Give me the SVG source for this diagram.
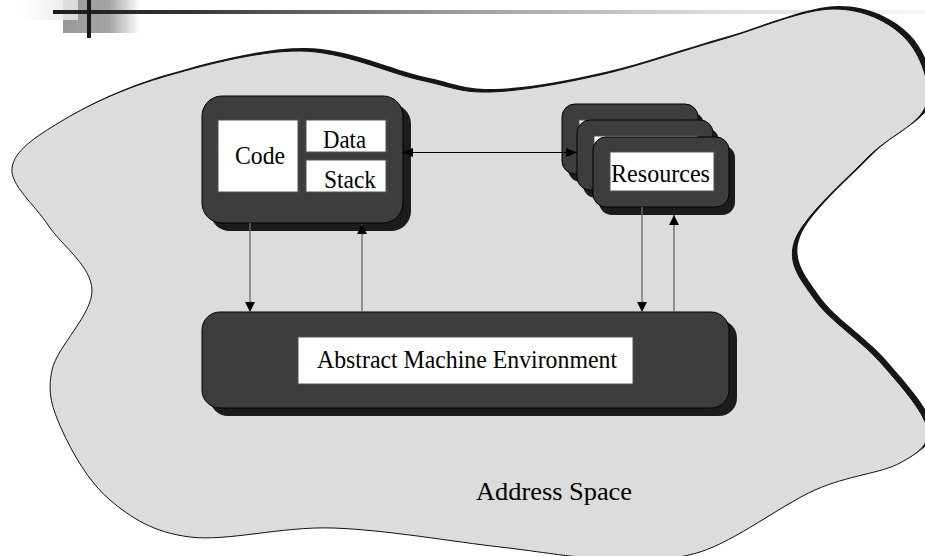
<svg xmlns="http://www.w3.org/2000/svg" width="925" height="556" viewBox="0 0 925 556">
  <style>
    .panel { fill: #3d3d3d; stroke: #000; stroke-width: 1; }
    .shadow { fill: #1c1c1c; }
    .label { fill: #fff; stroke: #555; stroke-width: 1; }
    .txt { font-family: "Liberation Serif", "Times New Roman", serif; font-size: 26px; fill: #000; }
    .link { stroke: #6e6e6e; stroke-width: 1.4; fill: none; }
    .link2 { stroke: #000; stroke-width: 1; fill: none; }
  </style>
  <defs>
    <linearGradient id="rule" x1="53" y1="0" x2="925" y2="0" gradientUnits="userSpaceOnUse">
      <stop offset="0" stop-color="#1a1a1a"/>
      <stop offset="0.15" stop-color="#333"/>
      <stop offset="0.45" stop-color="#999"/>
      <stop offset="0.75" stop-color="#dadada"/>
      <stop offset="1" stop-color="#f6f6f6"/>
    </linearGradient>
    <linearGradient id="sqDark" x1="0" y1="0" x2="1" y2="0">
      <stop offset="0" stop-color="#999"/>
      <stop offset="0.6" stop-color="#a4a4a4"/>
      <stop offset="1" stop-color="#fff"/>
    </linearGradient>
    <linearGradient id="sqLight" x1="0" y1="0" x2="1" y2="0">
      <stop offset="0" stop-color="#fff"/>
      <stop offset="1" stop-color="#e4e4e4"/>
    </linearGradient>
    <path id="blob" d="M12,168 C14,150.8 35.3,137 60,122 C84.7,107 120,89.8 160,78 C200,66.2 256.7,50.7 300,51 C343.3,51.3 388.3,73.2 420,80 C451.7,86.8 460,92.8 490,92 C520,91.2 561.7,83.7 600,75 C638.3,66.3 681.2,51 720,40 C758.8,29 802.2,9.3 833,9 C863.8,8.7 889.5,22 905,38 C920.5,54 932.3,85 926,105 C919.7,125 888.8,135.5 867,158 C845.2,180.5 803.7,216.3 795,240 C786.3,263.7 800.8,279.7 815,300 C829.2,320.3 861.3,340.7 880,362 C898.7,383.3 923.7,411.2 927,428 C930.3,444.8 918.7,452.7 900,463 C881.3,473.3 848.3,475.2 815,490 C781.7,504.8 735.8,540.7 700,552 C664.2,563.3 633.3,558.8 600,558 C566.7,557.2 544.5,552 500,547 C455.5,542 384.7,529.7 333,528 C281.3,526.3 227.2,541.7 190,537 C152.8,532.3 131.3,517.8 110,500 C88.7,482.2 71.7,451.7 62,430 C52.3,408.3 47,393.3 52,370 C57,346.7 92.7,314.2 92,290 C91.3,265.8 61.3,245.3 48,225 C34.7,204.7 10,185.2 12,168 Z"/>
    <marker id="headV" markerUnits="userSpaceOnUse" markerWidth="10" markerHeight="10" refX="10" refY="5" orient="auto-start-reverse" viewBox="0 0 10 10">
      <path d="M0,0 L10,5 L0,10 Z" fill="#000"/>
    </marker>
    <marker id="headH" markerUnits="userSpaceOnUse" markerWidth="11" markerHeight="9" refX="11" refY="4.5" orient="auto-start-reverse" viewBox="0 0 11 9">
      <path d="M0,0 L11,4.5 L0,9 Z" fill="#000"/>
    </marker>
  </defs>

  <!-- title bar ornament -->
  <g id="header">
    <rect x="63" y="0" width="77" height="33" fill="url(#sqDark)"/>
    <rect x="20" y="0" width="58" height="20" fill="url(#sqLight)" opacity="0.85"/>
    <rect x="53" y="10" width="872" height="4" fill="url(#rule)"/>
    <rect x="87" y="0" width="4" height="38" fill="#1a1a1a"/>
  </g>

  <!-- address space region -->
  <g id="address-space">
    <use href="#blob" transform="translate(5,-3)" fill="#161616"/>
    <use href="#blob" fill="#dcdcdc" stroke="#111" stroke-width="1"/>
    <text class="txt" x="476" y="500" textLength="156" lengthAdjust="spacingAndGlyphs">Address Space</text>
  </g>

  <!-- abstract machine environment -->
  <g id="environment">
    <rect class="shadow" x="210" y="320" width="527" height="96" rx="18"/>
    <rect class="panel" x="202" y="312" width="527" height="96" rx="18"/>
    <rect class="label" x="298" y="337" width="335" height="47"/>
    <text class="txt" x="317" y="368" textLength="300" lengthAdjust="spacingAndGlyphs">Abstract Machine Environment</text>
  </g>

  <!-- process image: code, data, stack -->
  <g id="process">
    <rect class="shadow" x="210" y="104" width="201" height="127" rx="20"/>
    <rect class="panel" x="202" y="96" width="201" height="127" rx="20"/>
    <rect class="label" x="218" y="120" width="80" height="72"/>
    <rect class="label" x="306" y="120" width="80" height="32"/>
    <rect class="label" x="306" y="160" width="80" height="32"/>
    <text class="txt" x="235" y="164" textLength="50" lengthAdjust="spacingAndGlyphs">Code</text>
    <text class="txt" x="323" y="148" textLength="43" lengthAdjust="spacingAndGlyphs">Data</text>
    <text class="txt" x="324" y="188" textLength="52" lengthAdjust="spacingAndGlyphs">Stack</text>
  </g>

  <!-- stacked resource cards -->
  <g id="resources">
    <rect class="shadow" x="568" y="112" width="136" height="70" rx="13"/>
    <rect class="panel" x="562" y="104" width="136" height="70" rx="13"/>
    <rect class="label" x="579" y="120" width="104" height="39"/>
    <rect class="shadow" x="583" y="128" width="136" height="70" rx="13"/>
    <rect class="panel" x="577" y="120" width="136" height="70" rx="13"/>
    <rect class="label" x="594" y="136" width="104" height="39"/>
    <rect class="shadow" x="599" y="145" width="136" height="70" rx="13"/>
    <rect class="panel" x="593" y="137" width="136" height="70" rx="13"/>
    <rect class="label" x="610" y="152" width="104" height="39"/>
    <text class="txt" x="611" y="182" textLength="99" lengthAdjust="spacingAndGlyphs">Resources</text>
  </g>

  <!-- connectors -->
  <g id="connectors">
    <line class="link2" x1="402" y1="152.5" x2="577" y2="152.5" marker-start="url(#headH)" marker-end="url(#headH)"/>
    <line class="link" x1="250" y1="223" x2="250" y2="312" marker-end="url(#headV)"/>
    <line class="link" x1="362" y1="312" x2="362" y2="224" marker-end="url(#headV)"/>
    <line class="link" x1="642" y1="207" x2="642" y2="312" marker-end="url(#headV)"/>
    <line class="link" x1="674" y1="312" x2="674" y2="215" marker-end="url(#headV)"/>
  </g>
</svg>
